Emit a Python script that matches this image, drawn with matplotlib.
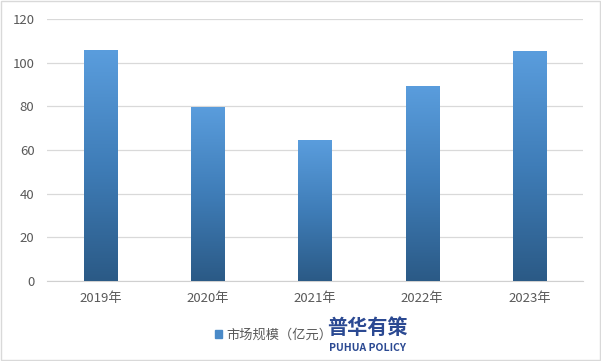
import numpy as np
import matplotlib.pyplot as plt
from matplotlib.colors import LinearSegmentedColormap
from matplotlib.patches import Patch

plt.rcParams['font.family'] = ['Noto Sans CJK SC', 'DejaVu Sans']

years = ['2019年', '2020年', '2021年', '2022年', '2023年']
market_size = [105.8, 79.8, 64.6, 89.4, 105.4]
series_name = '市场规模（亿元）'

fig = plt.figure(figsize=(6.01, 3.61), dpi=100)
ax = fig.add_axes([0.078, 0.222, 0.892, 0.725])

x = np.arange(len(years))
bars = ax.bar(x, market_size, width=0.31, color='none', zorder=3)

# gradient fill per bar (light top, dark bottom)
cmap = LinearSegmentedColormap.from_list('blue_grad', ['#2B5A86', '#3F7DB8', '#5A9DDD'])
grad = np.linspace(0, 1, 256).reshape(-1, 1)
for b in bars:
    x0, w, h = b.get_x(), b.get_width(), b.get_height()
    im = ax.imshow(grad, cmap=cmap, origin='lower', aspect='auto',
                   extent=[x0, x0 + w, 0, h], zorder=3)
    im.set_clip_path(b)

ax.set_xlim(-0.5, len(years) - 0.5)
ax.set_ylim(0, 120)
ax.set_yticks(range(0, 121, 20))
ax.set_xticks(x)
ax.set_xticklabels(years)
ax.yaxis.grid(True, color='#D9D9D9', linewidth=0.9, zorder=0)
ax.set_axisbelow(True)
for s in ['top', 'right', 'left']:
    ax.spines[s].set_visible(False)
ax.spines['bottom'].set_color('#D0D0D0')
ax.tick_params(axis='both', length=0, colors='#595959', labelsize=9.5)
ax.tick_params(axis='x', pad=8)
ax.tick_params(axis='y', pad=9)

leg = fig.legend(handles=[Patch(color='#4A8AC8', label=series_name)],
                 loc='center', bbox_to_anchor=(0.455, 0.072), frameon=False,
                 fontsize=9.5, handlelength=0.6, handleheight=0.6, handletextpad=0.3)
for t in leg.get_texts():
    t.set_color('#595959')

# watermark
fig.text(0.612, 0.093, '普华有策', ha='center', va='center', fontsize=14.5,
         fontweight='bold', color='#1F3F8C', alpha=0.95)
fig.text(0.612, 0.036, 'PUHUA POLICY', ha='center', va='center', fontsize=7.5,
         fontweight='bold', color='#1F3F8C', alpha=0.95)

# outer frame
fig.patches.append(plt.Rectangle((0.002, 0.003), 0.996, 0.994, transform=fig.transFigure,
                                 fill=False, edgecolor='#D9D9D9', linewidth=1))

fig.savefig('out.png', dpi=100)
